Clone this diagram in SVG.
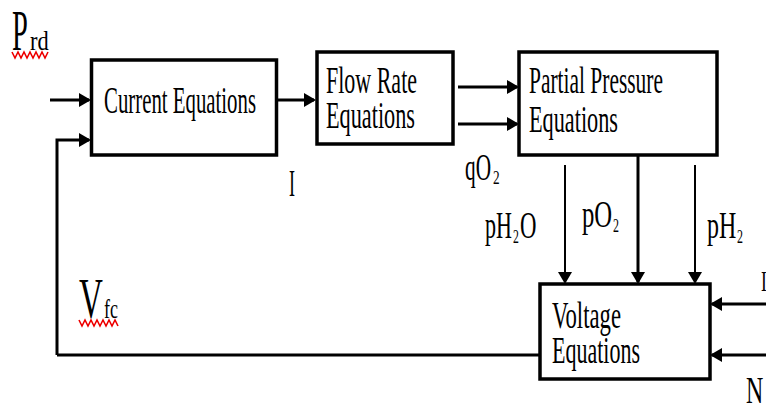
<svg xmlns="http://www.w3.org/2000/svg" width="766" height="403" viewBox="0 0 766 403">
<defs>
<style>
.box{fill:#fff;stroke:#000;stroke-width:3.5}
.ln{fill:none;stroke:#000;stroke-width:3}
.thin{fill:none;stroke:#000;stroke-width:2}
.t{font-family:"Liberation Serif","Times New Roman",serif;font-size:38px;fill:#000}
.s{font-size:19px}
.sq{fill:none;stroke:#e00;stroke-width:1.6}
</style>
<marker id="ah" markerUnits="userSpaceOnUse" markerWidth="14" markerHeight="14" refX="10" refY="7" orient="auto">
<path d="M0,0 L12,7 L0,14 z" fill="#000"/>
</marker>
</defs>
<rect width="766" height="403" fill="#fff"/>

<g id="connectors">
<line class="ln" x1="50" y1="100" x2="89" y2="100" marker-end="url(#ah)"/>
<polyline class="ln" points="57,355 57,140 89,140" marker-end="url(#ah)"/>
<line class="ln" x1="277" y1="100" x2="314" y2="100" marker-end="url(#ah)"/>
<line class="ln" x1="458" y1="87" x2="517" y2="87" marker-end="url(#ah)"/>
<line class="ln" x1="458" y1="124" x2="517" y2="124" marker-end="url(#ah)"/>
<line class="thin" x1="565" y1="165" x2="565" y2="282" marker-end="url(#ah)"/>
<line class="ln" x1="638" y1="155" x2="638" y2="282" marker-end="url(#ah)"/>
<line class="thin" x1="695" y1="165" x2="695" y2="282" marker-end="url(#ah)"/>
<line class="ln" x1="540" y1="355" x2="57" y2="355"/>
<line class="ln" x1="766" y1="304" x2="712" y2="304" marker-end="url(#ah)"/>
<line class="ln" x1="766" y1="355" x2="712" y2="355" marker-end="url(#ah)"/>
</g>

<g id="current">
<rect class="box" x="91.5" y="60" width="185" height="95"/>
<text class="t" x="104" y="113" textLength="152" lengthAdjust="spacingAndGlyphs">Current Equations</text>
</g>

<g id="flowrate">
<rect class="box" x="317" y="52" width="136" height="92"/>
<text class="t" x="326" y="93" textLength="91" lengthAdjust="spacingAndGlyphs">Flow Rate</text>
<text class="t" x="326" y="128" textLength="89" lengthAdjust="spacingAndGlyphs">Equations</text>
</g>

<g id="partial">
<rect class="box" x="519" y="52" width="198" height="103"/>
<text class="t" x="529" y="93" textLength="134" lengthAdjust="spacingAndGlyphs">Partial Pressure</text>
<text class="t" x="529" y="132" textLength="89" lengthAdjust="spacingAndGlyphs">Equations</text>
</g>

<g id="voltage">
<rect class="box" x="540" y="284" width="170" height="95"/>
<text class="t" x="552" y="328" textLength="69" lengthAdjust="spacingAndGlyphs">Voltage</text>
<text class="t" x="552" y="363" textLength="88" lengthAdjust="spacingAndGlyphs">Equations</text>
</g>

<g id="labels">
<text class="t" transform="translate(12,50) scale(0.5,1)" style="font-size:57px">P</text>
<text class="t" transform="translate(30,50) scale(0.8,1)" style="font-size:28px">rd</text>
<polyline class="sq" points="12,52 15,58 18,52 21,58 24,52 27,58 30,52 33,58 36,52 39,58 42,52 45,58 48,52"/>

<text class="t" transform="translate(79,318) scale(0.57,1)" style="font-size:58px">V</text>
<text class="t" transform="translate(104,318) scale(0.64,1)" style="font-size:28px">fc</text>
<polyline class="sq" points="79,320 82,326 85,320 88,326 91,320 94,326 97,320 100,326 103,320 106,326 109,320 112,326 115,320 118,326"/>

<text class="t" x="289" y="196" textLength="6" lengthAdjust="spacingAndGlyphs">I</text>

<text class="t" transform="translate(465,180) scale(0.56,1)">qO</text>
<text class="t s" transform="translate(493,184) scale(0.7,1)">2</text>

<text class="t" transform="translate(485,238) scale(0.58,1)">pH</text>
<text class="t s" transform="translate(513,243) scale(0.62,1)">2</text>
<text class="t" transform="translate(520,238) scale(0.6,1)">O</text>

<text class="t" transform="translate(582,227) scale(0.65,1)">pO</text>
<text class="t s" transform="translate(613,232) scale(0.63,1)">2</text>

<text class="t" transform="translate(707,238) scale(0.63,1)">pH</text>
<text class="t s" transform="translate(737,243) scale(0.63,1)">2</text>

<text class="t" transform="translate(761,291) scale(0.6,1)" style="font-size:29px">I</text>
<text class="t" transform="translate(746,403) scale(0.63,1)">N</text>
</g>
</svg>
